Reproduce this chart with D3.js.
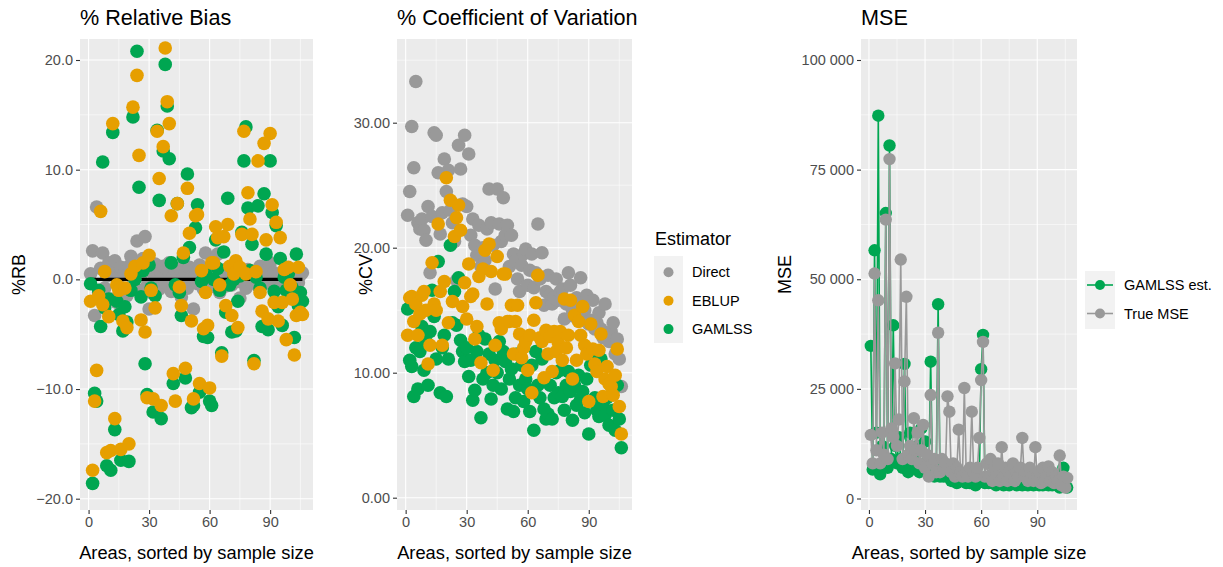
<!DOCTYPE html>
<html><head><meta charset="utf-8">
<script src="https://cdn.jsdelivr.net/npm/d3@7/dist/d3.min.js"></script>
<style>
body{margin:0;background:#fff;}
svg text{font-family:"Liberation Sans",Arial,Helvetica,sans-serif;}
</style>
</head><body>
<svg id="c" width="1223" height="567"></svg>
<script>
// ---------------- DATA ----------------
const estimators = ["Direct", "EBLUP", "GAMLSS"];
const mseSeries = ["GAMLSS est.", "True MSE"];

const rbDirect = [
 0.5, 2.6, -3.3, 6.6, -1.2, 1.0, 2.4, -0.8, 0.3, 1.5,
 -1.8, 0.9, 1.7, -2.1, 0.2, 1.1, -0.9, 0.6, -1.5, 1.2,
 2.1, -0.4, 0.8, 3.5, -1.0, 0.4, 1.9, 3.9, -0.6, -2.7,
 0.7, -1.3, 1.4, 0.1, -0.9, 0.6, 1.2, -0.3, 0.9, 1.5,
 -1.1, 0.4, 0.8, -0.5, 1.0, -1.6, 0.3, 0.7, -0.8, 1.1,
 0.2, -2.7, 0.5, -0.4, 1.3, 0.6, -0.9, 2.4, 0.1, -0.7,
 0.9, 1.2, -0.3, 2.3, -1.2, 0.5, 0.8, -0.6, 1.0, 0.2,
 -0.5, 0.7, 1.1, -0.2, -1.7, 0.6, 0.3, -0.8, 0.9, 0.4,
 -0.3, 0.7, 0.2, -0.6, 1.2, 0.5, -0.4, 0.8, 0.3, 1.5,
 -0.2, 0.6, -0.9, 0.4, 0.1, -0.5, 0.7, 0.3, -0.7, 0.5,
 0.2, -0.4, 0.6, -0.3, 0.4, 0.6];
const rbEBLUP = [
 -2.0, -17.4, -11.1, -8.3, -1.5, 6.2, -2.3, 0.7, -15.8, -3.4,
 -15.6, 14.2, -12.7, -0.5, -1.0, -15.5, -3.8, -0.8, -4.4, -15.0,
 0.5, 15.7, 1.2, 18.6, 11.3, -3.7, 1.5, -4.8, -10.8, 2.2,
 -1.0, -10.9, -2.6, 13.5, 9.2, -11.5, 12.1, 21.1, 16.2, 14.2,
 5.8, -8.6, -11.1, 6.9, -0.7, -2.4, 2.4, -8.1, 8.3, 4.2,
 -3.8, -10.9, 5.8, 5.9, -9.5, 0.8, -4.5, -1.2, -4.2, -9.9,
 1.5, 1.5, 4.8, 3.8, -0.5, -7.0, 3.9, -2.4, 5.0, 1.2,
 -3.3, 0.5, 1.7, -4.4, 1.1, 4.1, 13.5, 0.5, 7.9, 5.5,
 4.1, -7.7, 0.7, 10.8, -1.2, -2.9, 12.4, 3.6, -3.6, 13.3,
 6.8, -2.1, 5.2, -3.8, 3.8, -2.1, 0.9, -5.5, 1.1, -0.5,
 -1.8, -6.9, -3.3, 1.1, -3.0, -3.2];
const rbGAMLSS = [
 -0.4, -18.6, -10.4, -11.1, -1.0, -4.3, 10.7, -2.6, -17.0, -1.8,
 -17.4, 13.4, -13.7, -2.0, -3.2, -16.5, -4.7, -2.5, -3.9, -16.6,
 -1.0, 14.8, 0.0, 20.8, 8.4, -1.6, 0.8, -7.7, -10.5, 1.3,
 -0.8, -12.1, -1.5, 13.6, 7.2, -12.7, 11.7, 19.6, 15.8, 11.0,
 1.5, -9.5, -0.5, 6.9, -1.2, -3.3, 2.0, -9.0, 9.6, 2.9,
 -11.7, -11.5, 4.7, 6.8, -10.3, -0.2, -5.2, 0.5, -5.3, -11.1,
 -11.5, 0.0, 3.6, 1.0, -1.0, -6.7, 2.5, -3.0, 7.4, -0.5,
 -4.8, 0.0, -4.7, -2.0, 0.3, 4.3, 10.8, 13.9, 6.5, 0.8,
 3.2, -7.4, 0.2, 6.7, -0.8, -4.3, 7.8, 2.3, -4.6, 10.8,
 6.1, -1.1, 4.9, -2.5, 1.9, -4.2, 0.2, -1.0, 0.5, -1.5,
 -0.8, -5.3, 2.3, -2.4, -1.2, -2.0];

const cvDirect = [
 22.6, 24.5, 29.7, 26.4, 33.3, 22.0, 21.5, 22.3, 21.4, 20.6,
 23.3, 18.0, 22.5, 29.2, 29.0, 26.0, 21.1, 22.8, 27.1, 24.5,
 26.2, 23.0, 22.0, 20.5, 17.4, 28.2, 26.3, 23.5, 29.0, 23.3,
 27.5, 21.0, 22.3, 20.2, 19.4, 21.8, 18.5, 20.0, 19.0, 21.5,
 24.7, 22.0, 20.2, 16.7, 24.7, 21.9, 20.5, 24.0, 21.0, 21.8,
 18.5, 21.0, 19.5, 18.9, 17.5, 16.5, 18.6, 19.5, 19.9, 17.0,
 18.2, 19.5, 16.8, 18.0, 21.9, 17.5, 19.6, 15.4, 16.5, 17.8,
 16.2, 15.5, 16.0, 17.5, 15.8, 16.5, 16.7, 14.3, 15.5, 18.0,
 17.0, 15.0, 14.5, 16.0, 15.5, 17.6, 14.8, 15.0, 16.2, 13.9,
 14.2, 15.8, 13.5, 14.0, 14.8, 13.5, 12.8, 15.5, 13.0, 12.5,
 13.3, 14.0, 11.5, 12.7, 11.1, 8.9];
const cvEBLUP = [
 13.0, 16.0, 16.1, 14.1, 15.5, 13.0, 14.7, 16.2, 16.5, 15.0,
 10.7, 12.2, 18.8, 15.5, 15.0, 21.9, 16.5, 12.2, 17.3, 25.6,
 14.0, 23.8, 15.7, 20.9, 22.4, 23.4, 21.4, 15.3, 17.2, 14.3,
 18.7, 16.1, 16.3, 12.7, 13.7, 17.7, 10.8, 18.3, 19.8, 15.5,
 20.3, 18.1, 10.2, 12.2, 19.3, 14.0, 13.5, 17.9, 17.9, 14.1,
 14.1, 15.4, 11.5, 14.1, 15.4, 13.1, 11.2, 12.0, 12.5, 10.2,
 13.0, 8.4, 14.2, 15.6, 17.8, 12.8, 12.5, 9.6, 13.4, 11.5,
 12.9, 10.1, 13.3, 11.7, 12.4, 13.3, 11.0, 15.9, 12.0, 13.0,
 15.8, 9.5, 14.6, 11.0, 14.1, 13.0, 15.3, 12.2, 11.5, 7.7,
 13.9, 11.9, 10.7, 10.1, 11.8, 13.1, 8.1, 9.5, 10.5, 9.1,
 8.9, 8.2, 9.8, 11.9, 7.3, 5.1];
const cvGAMLSS = [
 15.1, 11.0, 10.5, 8.1, 12.0, 8.7, 11.7, 13.7, 10.2, 12.5,
 9.0, 13.3, 16.6, 14.5, 11.1, 18.9, 8.4, 12.0, 13.0, 8.1,
 11.1, 20.2, 14.0, 16.5, 13.8, 17.6, 12.6, 11.7, 10.9, 12.0,
 9.7, 11.0, 7.8, 8.6, 11.7, 13.0, 6.4, 9.5, 12.7, 10.0,
 11.5, 7.9, 9.0, 11.0, 10.0, 12.5, 8.7, 11.7, 10.9, 7.1,
 9.5, 10.3, 6.9, 8.0, 11.5, 9.0, 10.6, 7.7, 9.5, 8.7,
 6.9, 10.6, 5.4, 11.7, 9.0, 8.0, 11.1, 7.1, 6.3, 6.7,
 9.0, 6.3, 8.0, 10.0, 8.4, 10.2, 8.1, 7.0, 9.0, 10.1,
 8.5, 6.2, 9.0, 7.4, 9.8, 7.9, 8.5, 6.8, 9.5, 5.1,
 10.6, 11.7, 8.0, 7.0, 6.5, 11.1, 7.4, 6.6, 8.0, 5.8,
 9.3, 7.0, 5.4, 9.0, 6.3, 4.0];

const mseGAMLSS = [
 34800, 6600, 56600, 15000, 87300, 5500, 12000, 8000, 65100, 7000,
 80500, 9000, 39500, 12000, 8000, 14000, 9000, 7000, 30700, 9000,
 6000, 15000, 8000, 10000, 7000, 12000, 6000, 16000, 7000, 13000,
 8000, 6000, 31200, 6000, 5000, 7000, 44300, 5000, 7000, 5000,
 6000, 5000, 5500, 4000, 6000, 4500, 3500, 5000, 4000, 5000,
 4000, 3500, 4500, 3500, 5000, 4000, 3000, 4500, 4000, 29500,
 37300, 3500, 4000, 3500, 4500, 3500, 4000, 3000, 4000, 3500,
 4000, 3000, 4500, 3500, 3000, 4000, 3500, 4000, 3000, 3500,
 4000, 3000, 3500, 4000, 3000, 3500, 4000, 3000, 3500, 4000,
 3000, 3500, 3000, 4000, 3500, 3000, 3500, 3000, 4000, 3500,
 3000, 2500, 3500, 7000, 3000, 2500];
const mseTrue = [
 14500, 8000, 51300, 11000, 45200, 8000, 15000, 10000, 63600, 9000,
 77400, 16000, 14000, 30800, 12000, 18000, 54500, 9000, 26700, 46000,
 10000, 12000, 9000, 18300, 11000, 15000, 8000, 11000, 16800, 7000,
 10000, 5000, 23600, 8000, 9000, 6000, 37800, 6000, 9000, 7000,
 8000, 23300, 19800, 6000, 8000, 5000, 7000, 15700, 6000, 5000,
 25200, 6000, 5000, 7000, 19800, 6000, 5000, 7000, 13800, 27000,
 35700, 5000, 8000, 5000, 9000, 4000, 7000, 5000, 8000, 4000,
 11700, 5000, 7000, 4000, 6000, 5000, 8000, 4000, 6000, 5000,
 7000, 13800, 5000, 6000, 4000, 7000, 5000, 4000, 11700, 5000,
 6000, 3500, 7000, 4000, 5000, 7300, 4000, 6000, 3500, 5000,
 4000, 9800, 3000, 5000, 2500, 4700];

const xTicks = [0, 30, 60, 90];
const xMinor = [15, 45, 75, 105];
const rbTicks = [-20, -10, 0, 10, 20];
const rbMinor = [-15, -5, 5, 15];
const cvTicks = [0, 10, 20, 30];
const cvMinor = [5, 15, 25, 35];
const mseTicks = [0, 25000, 50000, 75000, 100000];
const mseMinor = [12500, 37500, 62500, 87500];

// ---------------- STYLE ----------------
const colEst = {Direct: "#999999", EBLUP: "#E69F00", GAMLSS: "#00A651"};
const colMse = {"GAMLSS est.": "#00A651", "True MSE": "#999999"};
const TOP = 39, BOT = 510;
const svg = d3.select("#c");
const n = rbDirect.length;
const areas = d3.range(1, n + 1);

function makePanel(o) {
  const g = svg.append("g");
  const x = d3.scaleLinear().domain([-4.25, 111.25]).range([o.left, o.right]);
  const y = d3.scaleLinear().domain(o.yd).range(o.yr);
  g.append("rect").attr("x", o.left).attr("y", TOP)
    .attr("width", o.right - o.left).attr("height", BOT - TOP).attr("fill", "#EBEBEB");
  const grid = g.append("g");
  o.yMinor.forEach(v => { const p = y(v); if (p > TOP && p < BOT)
    grid.append("line").attr("x1", o.left).attr("x2", o.right).attr("y1", p).attr("y2", p)
      .attr("stroke", "#fff").attr("stroke-width", 0.55); });
  xMinor.forEach(v => grid.append("line").attr("x1", x(v)).attr("x2", x(v)).attr("y1", TOP).attr("y2", BOT)
      .attr("stroke", "#fff").attr("stroke-width", 0.55));
  o.yTicks.forEach(v => { const p = y(v);
    grid.append("line").attr("x1", o.left).attr("x2", o.right).attr("y1", p).attr("y2", p)
      .attr("stroke", "#fff").attr("stroke-width", 1.1); });
  xTicks.forEach(v => grid.append("line").attr("x1", x(v)).attr("x2", x(v)).attr("y1", TOP).attr("y2", BOT)
      .attr("stroke", "#fff").attr("stroke-width", 1.1));

  // axes
  const ax = g.append("g").attr("transform", `translate(0,${BOT})`)
    .call(d3.axisBottom(x).tickValues(xTicks).tickSize(4).tickPadding(3).tickFormat(d3.format("d")));
  const ay = g.append("g").attr("transform", `translate(${o.left},0)`)
    .call(d3.axisLeft(y).tickValues(o.yTicks).tickSize(4).tickPadding(3).tickFormat(o.fmt));
  [ax, ay].forEach(a => {
    a.select(".domain").remove();
    a.selectAll(".tick line").attr("stroke", "#333333").attr("stroke-width", 1.1);
    a.selectAll(".tick text").attr("fill", "#4D4D4D").style("font-size", "14.5px")
      .style("font-family", '"Liberation Sans",Arial,sans-serif');
  });

  // titles
  g.append("text").attr("x", o.left).attr("y", 25).text(o.title)
    .style("font-size", "21.6px").attr("fill", "#000");
  g.append("text").attr("x", (o.left + o.right) / 2).attr("y", 559).attr("text-anchor", "middle")
    .text("Areas, sorted by sample size").style("font-size", "18.3px").attr("fill", "#000");
  g.append("text").attr("transform", `translate(${o.ylabX},${(TOP + BOT) / 2}) rotate(-90)`)
    .attr("text-anchor", "middle").text(o.ylab).style("font-size", "18px").attr("fill", "#000");

  const plot = g.append("g");
  return {x, y, plot};
}

const fmtMinus = f => v => f(v).replace("-", "\u2212");

// Panel 1
const p1 = makePanel({left: 80, right: 313, yd: [-20, 20], yr: [498.7, 60],
  yTicks: rbTicks, yMinor: rbMinor, fmt: fmtMinus(d3.format(".1f")),
  title: "% Relative Bias", ylab: "%RB", ylabX: 25});
const R = 6.8;
function dots(p, vals, color) {
  p.plot.append("g").selectAll("circle").data(vals).join("circle")
    .attr("cx", (d, i) => p.x(areas[i])).attr("cy", d => p.y(d)).attr("r", R).attr("fill", color);
}
dots(p1, rbDirect, colEst.Direct);
p1.plot.append("line").attr("x1", p1.x(areas[0])).attr("x2", p1.x(areas[n - 1]))
  .attr("y1", p1.y(0)).attr("y2", p1.y(0)).attr("stroke", "#000").attr("stroke-width", 3.2);
dots(p1, rbGAMLSS, colEst.GAMLSS);
dots(p1, rbEBLUP, colEst.EBLUP);

// Panel 2
const p2 = makePanel({left: 397, right: 632, yd: [0, 30], yr: [497.7, 122.7],
  yTicks: cvTicks, yMinor: cvMinor, fmt: d3.format(".2f"),
  title: "% Coefficient of Variation", ylab: "%CV", ylabX: 372});
dots(p2, cvDirect, colEst.Direct);
dots(p2, cvGAMLSS, colEst.GAMLSS);
dots(p2, cvEBLUP, colEst.EBLUP);

// Panel 3
const fmtSpace = v => d3.format(",")(v).replace(/,/g, "\u00a0");
const p3 = makePanel({left: 861, right: 1077, yd: [0, 100000], yr: [498.5, 60],
  yTicks: mseTicks, yMinor: mseMinor, fmt: fmtSpace,
  title: "MSE", ylab: "MSE", ylabX: 791});
function mseLayer(vals, color) {
  const line = d3.line().x((d, i) => p3.x(areas[i])).y(d => p3.y(d));
  p3.plot.append("path").datum(vals).attr("d", line).attr("fill", "none")
    .attr("stroke", color).attr("stroke-width", 1.6);
  p3.plot.append("g").selectAll("circle").data(vals).join("circle")
    .attr("cx", (d, i) => p3.x(areas[i])).attr("cy", d => p3.y(d)).attr("r", 6.2).attr("fill", color);
}
mseLayer(mseGAMLSS, colMse["GAMLSS est."]);
mseLayer(mseTrue, colMse["True MSE"]);

// Legend 1
const l1 = svg.append("g");
l1.append("text").attr("x", 655).attr("y", 245).text("Estimator").style("font-size", "18px");
l1.append("rect").attr("x", 654).attr("y", 256).attr("width", 29).attr("height", 87).attr("fill", "#F2F2F2");
estimators.forEach((e, i) => {
  const cy = 272.3 + i * 28.4;
  l1.append("circle").attr("cx", 668.5).attr("cy", cy).attr("r", 5).attr("fill", colEst[e]);
  l1.append("text").attr("x", 692).attr("y", cy + 5).text(e).style("font-size", "14.5px");
});

// Legend 2
const l2 = svg.append("g");
l2.append("rect").attr("x", 1085).attr("y", 271).attr("width", 30).attr("height", 58).attr("fill", "#F2F2F2");
mseSeries.forEach((s, i) => {
  const cy = 285 + i * 28.5;
  l2.append("line").attr("x1", 1087).attr("x2", 1113).attr("y1", cy).attr("y2", cy)
    .attr("stroke", colMse[s]).attr("stroke-width", 1.6);
  l2.append("circle").attr("cx", 1100).attr("cy", cy).attr("r", 5).attr("fill", colMse[s]);
  l2.append("text").attr("x", 1124).attr("y", cy + 5).text(s).style("font-size", "14.5px");
});
</script>
</body></html>
